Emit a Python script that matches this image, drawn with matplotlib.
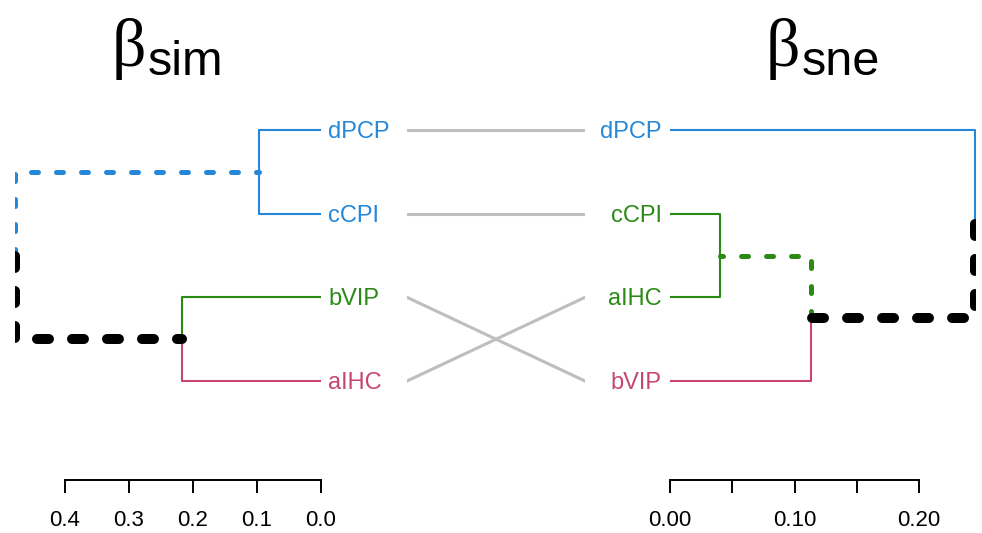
import matplotlib
matplotlib.use("Agg")
import matplotlib.pyplot as plt

plt.rcParams['font.family'] = ['Liberation Sans', 'DejaVu Sans']
plt.rcParams['lines.scale_dashes'] = False

# --- dendrogram data (leaf order top -> bottom, merges with heights) ---
sim_order = ["dPCP", "cCPI", "bVIP", "aIHC"]
sim_merges = [("dPCP", "cCPI", 0.097), ("bVIP", "aIHC", 0.217), (0, 1, 0.478)]
sne_order = ["dPCP", "cCPI", "aIHC", "bVIP"]
sne_merges = [("cCPI", "aIHC", 0.040), (0, "bVIP", 0.113), ("dPCP", 1, 0.245)]

sim_ticks = [0.0, 0.1, 0.2, 0.3, 0.4]
sim_ticklabels = ["0.0", "0.1", "0.2", "0.3", "0.4"]
sne_ticks = [0.0, 0.05, 0.10, 0.15, 0.20]
sne_ticklabels = ["0.00", "", "0.10", "", "0.20"]

BLUE = "#2487D8"
GREEN = "#2A8A14"
PINK = "#C64572"
GREY = "#BEBEBE"

sim_leaf_col = {"dPCP": BLUE, "cCPI": BLUE, "bVIP": GREEN, "aIHC": PINK}
sne_leaf_col = {"dPCP": BLUE, "cCPI": GREEN, "aIHC": GREEN, "bVIP": PINK}

# edges that differ between the two trees (parent merge, child index 0/1)
sim_special = {(2, 0): ("dot", BLUE), (2, 1): ("dash", "black")}
sne_special = {(2, 1): ("dash", "black"), (1, 0): ("dot", GREEN)}

STYLES = {
    "thin": dict(lw=1.5),
    "dot": dict(lw=3.6, dashes=(5, 13), dash_capstyle="round"),
    "dash": dict(lw=7.2, dashes=(8.6, 16.6), dash_capstyle="round"),
}

# --- layout (pixels) ---
W, H = 982, 533
leaf_top, leaf_step = 130, 83.67
ax_top, ax_bot = 88, 480
y_hi = 1 + (ax_top - leaf_top) / leaf_step
y_lo = 1 + (ax_bot - leaf_top) / leaf_step


def leaves_of(node, merges):
    if isinstance(node, str):
        return [node]
    a, b, _ = merges[node]
    return leaves_of(a, merges) + leaves_of(b, merges)


def draw_tree(ax, order, merges, leaf_col, special):
    ypos = {n: i + 1 for i, n in enumerate(order)}
    hpos = {n: 0.0 for n in order}
    for k, (a, b, h) in enumerate(merges):
        ypos[k] = (ypos[a] + ypos[b]) / 2
        hpos[k] = h
    for k, (a, b, h) in enumerate(merges):
        for i, c in enumerate((a, b)):
            xs = [h, h, hpos[c]]
            ys = [ypos[k], ypos[c], ypos[c]]
            if (k, i) in special:
                st, col = special[(k, i)]
                z = 3 if st == "dash" else 2.5
            else:
                cols = {leaf_col[l] for l in leaves_of(c, merges)}
                col = cols.pop() if len(cols) == 1 else "black"
                st, z = "thin", 2
            ax.plot(xs, ys, color=col, zorder=z, solid_capstyle="butt", **STYLES[st])
    return ypos


def setup_axis(ax, ticks, labels):
    for s in ("top", "left", "right"):
        ax.spines[s].set_visible(False)
    ax.spines["bottom"].set_linewidth(1.4)
    ax.spines["bottom"].set_bounds(min(ticks), max(ticks))
    ax.set_xticks(ticks)
    ax.set_xticklabels(labels)
    ax.tick_params(axis="x", direction="out", length=9.4, width=1.4, pad=12, labelsize=16)
    ax.set_yticks([])
    ax.set_ylim(y_lo, y_hi)
    ax.patch.set_visible(False)


fig = plt.figure(figsize=(W / 100, H / 100), dpi=100)

# left tree: beta_sim, height 0 at x=321px, 0.1 per 64px, plot region from x=15px
ax_l = fig.add_axes([15 / W, 1 - ax_bot / H, 306 / W, (ax_bot - ax_top) / H])
ax_l.set_xlim(306 / 640, 0)
setup_axis(ax_l, sim_ticks, sim_ticklabels)
pos_sim = draw_tree(ax_l, sim_order, sim_merges, sim_leaf_col, sim_special)
for n in sim_order:
    ax_l.annotate(n, (0, pos_sim[n]), xytext=(5, -1.4), textcoords="offset points",
                  ha="left", va="center", fontsize=17, color=sim_leaf_col[n])

# right tree: beta_sne, height 0 at x=670px, 0.05 per 62.25px, region to x=976px
ax_r = fig.add_axes([670 / W, 1 - ax_bot / H, 306 / W, (ax_bot - ax_top) / H])
ax_r.set_xlim(0, 306 / 1245)
setup_axis(ax_r, sne_ticks, sne_ticklabels)
pos_sne = draw_tree(ax_r, sne_order, sne_merges, sne_leaf_col, sne_special)
for n in sne_order:
    ax_r.annotate(n, (0, pos_sne[n]), xytext=(-6, -1.4), textcoords="offset points",
                  ha="right", va="center", fontsize=17, color=sne_leaf_col[n])

# connecting lines
ax_m = fig.add_axes([407 / W, 1 - ax_bot / H, 178 / W, (ax_bot - ax_top) / H])
ax_m.set_xlim(0, 1)
ax_m.set_ylim(y_lo, y_hi)
ax_m.axis("off")
for n in sim_order:
    ax_m.plot([0, 1], [pos_sim[n], pos_sne[n]], color=GREY, lw=2.2)

# titles
fig.text(112 / W, 1 - 66 / H, "β", fontfamily="Liberation Serif", fontsize=49, va="baseline")
fig.text(148 / W, 1 - 75 / H, "sim", fontsize=35, va="baseline")
fig.text(766 / W, 1 - 66 / H, "β", fontfamily="Liberation Serif", fontsize=49, va="baseline")
fig.text(802 / W, 1 - 75 / H, "sne", fontsize=35, va="baseline")

fig.savefig("out.png", dpi=100)
